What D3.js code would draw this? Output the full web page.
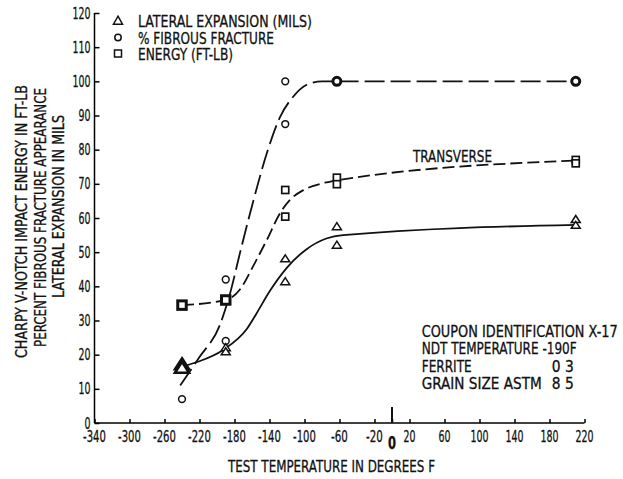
<!DOCTYPE html>
<html>
<head>
<meta charset="utf-8">
<script src="https://cdn.jsdelivr.net/npm/d3@7"></script>
<style>
  body { margin: 0; background: #fff; }
  svg { display: block; }
  text { font-family: "DejaVu Sans Condensed", "Liberation Sans Narrow", "DejaVu Sans", sans-serif; font-stretch: condensed; fill: #111; stroke: #111; stroke-width: 0.3; }
</style>
</head>
<body>
<svg id="chart" width="623" height="479"></svg>
<script>
// tick values
const xTicks = [-340, -300, -260, -220, -180, -140, -100, -60, -20, 0, 20, 60, 100, 140, 180, 220];
const yTicks = [0, 10, 20, 30, 40, 50, 60, 70, 80, 90, 100, 110, 120];

// measured points  [temperature F, value]
const fibrousPts = [[-240, 7], [-190, 42], [-190, 24], [-122, 100], [-122, 87.5], [-63, 100], [210, 100]];
const energyPts = [[-240, 34.5], [-190, 36], [-122, 68.2], [-122, 60.4], [-63, 71.8], [-63, 69.9], [210, 77], [210, 76]];
const lateralPts = [[-240, 17], [-240, 16], [-190, 22], [-190, 20.8], [-122, 48], [-122, 41.3], [-63, 57.4], [-63, 52], [210, 59.5], [210, 57.8]];

// hand drawn fit curves
const fibrousCurve = [[-242, 11], [-220, 19.3], [-197, 28.5], [-185, 38], [-174, 49.5], [-158.5, 65], [-143, 79],
  [-128, 89.5], [-113, 95.5], [-94, 99.4], [-80, 100], [-60, 100], [210, 100]];
const energyCurve = [[-240, 34.5], [-190, 36], [-174, 39], [-158.5, 46], [-143, 53.6], [-128, 61.4], [-116.6, 65.3],
  [-101, 68.2], [-82, 70], [-63, 71], [210, 76.8]];
const lateralCurve = [[-240, 16.5], [-221, 18], [-193, 21.4], [-166, 27.5], [-155, 32], [-140, 38.5], [-120, 45.5],
  [-98, 50.8], [-75, 54], [-56, 55], [210, 58]];

// which markers are drawn heavy (by temperature)
const heavyCircle = [-63, 210];
const heavySquare = [-240, -190];
const heavyTriangle = [-240];

const legendItems = ["LATERAL EXPANSION (MILS)", "% FIBROUS FRACTURE", "ENERGY (FT-LB)"];
const yTitle = ["CHARPY V-NOTCH IMPACT ENERGY IN FT-LB", "PERCENT FIBROUS FRACTURE APPEARANCE", "LATERAL EXPANSION IN MILS"];
const notes = ["COUPON IDENTIFICATION X-17", "NDT TEMPERATURE -190F", "FERRITE", "GRAIN SIZE ASTM"];
const noteValues = ["", "", "0 3", "8 5"];

const svg = d3.select("#chart");
const FS = 16.5;

const x = d3.scaleLinear().domain([-340, 220]).range([94.5, 584.5]);
const y = d3.scaleLinear().domain([0, 120]).range([423, 13]);

// narrow lettering: force widths
function charW(s, w) {
  let t = 0;
  for (const c of s) t += c === " " ? w * 0.55 : (c === "-" ? w * 0.8 : w);
  return t;
}

// axes
const xAxis = d3.axisBottom(x).tickValues(xTicks).tickSize(-4).tickFormat("");
const gx = svg.append("g").attr("transform", `translate(0,${y(0)})`).call(xAxis);
gx.select(".domain").attr("d", `M${x(-340)},0H${x(220)}`).attr("stroke-width", 1.5);
gx.selectAll(".tick line").attr("stroke-width", 1.5);

const yAxis = d3.axisLeft(y).tickValues(yTicks).tickSize(-5).tickFormat("");
const gy = svg.append("g").attr("transform", `translate(${x(-340)},0)`).call(yAxis);
gy.select(".domain").attr("d", `M0,${y(0)}V${y(120)}`).attr("stroke-width", 1.5);
gy.selectAll(".tick line").attr("stroke-width", 1.5);

// long tick at zero
svg.append("line")
  .attr("x1", x(0)).attr("x2", x(0))
  .attr("y1", y(0)).attr("y2", y(0) - 16)
  .attr("stroke", "#111").attr("stroke-width", 2);

// tick labels
svg.append("g").selectAll("text")
  .data(xTicks.filter(d => d !== 0))
  .join("text")
  .attr("x", d => x(d))
  .attr("y", 442)
  .attr("text-anchor", "middle")
  .attr("font-size", FS)
  .attr("textLength", d => charW(String(d), 6))
  .attr("lengthAdjust", "spacingAndGlyphs")
  .text(d => d);

svg.append("text")
  .attr("x", x(0)).attr("y", 448.5)
  .attr("text-anchor", "middle")
  .attr("font-size", 17).attr("font-weight", "bold")
  .attr("textLength", 8).attr("lengthAdjust", "spacingAndGlyphs")
  .text("0");

svg.append("g").selectAll("text")
  .data(yTicks)
  .join("text")
  .attr("x", 90.5)
  .attr("y", d => y(d) + 5.5)
  .attr("text-anchor", "end")
  .attr("font-size", FS)
  .attr("textLength", d => charW(String(d), 6))
  .attr("lengthAdjust", "spacingAndGlyphs")
  .text(d => d);

// axis titles
svg.append("text")
  .attr("x", 228).attr("y", 471.5)
  .attr("font-size", FS)
  .attr("textLength", 207).attr("lengthAdjust", "spacingAndGlyphs")
  .text("TEST TEMPERATURE IN DEGREES F");

const yTitlePos = [[21, 221.5, 273], [40, 217.5, 259], [58, 206.5, 183]];
yTitle.forEach((t, i) => {
  const [cx, cy, len] = yTitlePos[i];
  svg.append("text")
    .attr("transform", `translate(${cx + 6},${cy}) rotate(-90)`)
    .attr("text-anchor", "middle")
    .attr("font-size", FS)
    .attr("textLength", len).attr("lengthAdjust", "spacingAndGlyphs")
    .text(t);
});

// curves
const line = d3.line().x(d => x(d[0])).y(d => y(d[1])).curve(d3.curveMonotoneX);

svg.append("path").datum(fibrousCurve)
  .attr("d", line).attr("fill", "none")
  .attr("stroke", "#111").attr("stroke-width", 1.8)
  .attr("stroke-dasharray", "20,6");

svg.append("path").datum(energyCurve)
  .attr("d", line).attr("fill", "none")
  .attr("stroke", "#111").attr("stroke-width", 1.8)
  .attr("stroke-dasharray", "12,5");

svg.append("path").datum(lateralCurve)
  .attr("d", line).attr("fill", "none")
  .attr("stroke", "#111").attr("stroke-width", 1.8);

// markers
function triPath(w, h) {
  return `M0,${-h * 0.6}L${w / 2},${h * 0.4}L${-w / 2},${h * 0.4}Z`;
}

const marks = svg.append("g").attr("fill", "#fff").attr("stroke", "#111");

marks.selectAll(".circ")
  .data(fibrousPts)
  .join("circle")
  .attr("class", "circ")
  .attr("cx", d => x(d[0])).attr("cy", d => y(d[1]))
  .attr("r", d => heavyCircle.includes(d[0]) ? 4 : 3.4)
  .attr("stroke-width", d => heavyCircle.includes(d[0]) ? 3 : 1.5);

marks.selectAll(".sq")
  .data(energyPts)
  .join("rect")
  .attr("class", "sq")
  .each(function (d) {
    const s = heavySquare.includes(d[0]) ? 8.5 : 7;
    d3.select(this)
      .attr("x", x(d[0]) - s / 2).attr("y", y(d[1]) - s / 2)
      .attr("width", s).attr("height", s)
      .attr("stroke-width", heavySquare.includes(d[0]) ? 3 : 1.7);
  });

marks.selectAll(".tri")
  .data(lateralPts)
  .join("path")
  .attr("class", "tri")
  .attr("transform", d => `translate(${x(d[0])},${y(d[1])})`)
  .attr("d", d => heavyTriangle.includes(d[0]) ? triPath(14, 11) : triPath(9, 7))
  .attr("stroke-width", d => heavyTriangle.includes(d[0]) ? 2.6 : 1.5)
  .attr("stroke-linejoin", "miter");

// legend
const legend = svg.append("g");
const legendY = [21, 37.5, 53.5];
legend.append("path").attr("transform", `translate(118,${legendY[0]})`)
  .attr("d", triPath(9, 8)).attr("fill", "none").attr("stroke", "#111").attr("stroke-width", 1.5);
legend.append("circle").attr("cx", 118).attr("cy", legendY[1]).attr("r", 3.2)
  .attr("fill", "none").attr("stroke", "#111").attr("stroke-width", 1.5);
legend.append("rect").attr("x", 114.5).attr("y", legendY[2] - 3.5).attr("width", 7).attr("height", 7)
  .attr("fill", "none").attr("stroke", "#111").attr("stroke-width", 1.5);

const legendLen = [174, 136, 95];
legend.selectAll("text")
  .data(legendItems)
  .join("text")
  .attr("x", 138)
  .attr("y", (d, i) => legendY[i] + 6)
  .attr("font-size", FS)
  .attr("textLength", (d, i) => legendLen[i])
  .attr("lengthAdjust", "spacingAndGlyphs")
  .text(d => d);

// annotations
svg.append("text")
  .attr("x", 413).attr("y", 161.7)
  .attr("font-size", FS)
  .attr("textLength", 79).attr("lengthAdjust", "spacingAndGlyphs")
  .text("TRANSVERSE");

const noteY = [336.7, 354, 371.7, 389];
const noteLen = [196, 155, 50, 120];
svg.append("g").selectAll("text")
  .data(notes)
  .join("text")
  .attr("x", 421.7)
  .attr("y", (d, i) => noteY[i])
  .attr("font-size", FS)
  .attr("textLength", (d, i) => noteLen[i])
  .attr("lengthAdjust", "spacingAndGlyphs")
  .text(d => d);

svg.append("g").selectAll("text")
  .data(noteValues.map((v, i) => [v, i]).filter(d => d[0]))
  .join("text")
  .attr("x", 551.7)
  .attr("y", d => noteY[d[1]])
  .attr("font-size", FS)
  .attr("textLength", 22).attr("lengthAdjust", "spacingAndGlyphs")
  .text(d => d[0]);
</script>
</body>
</html>
